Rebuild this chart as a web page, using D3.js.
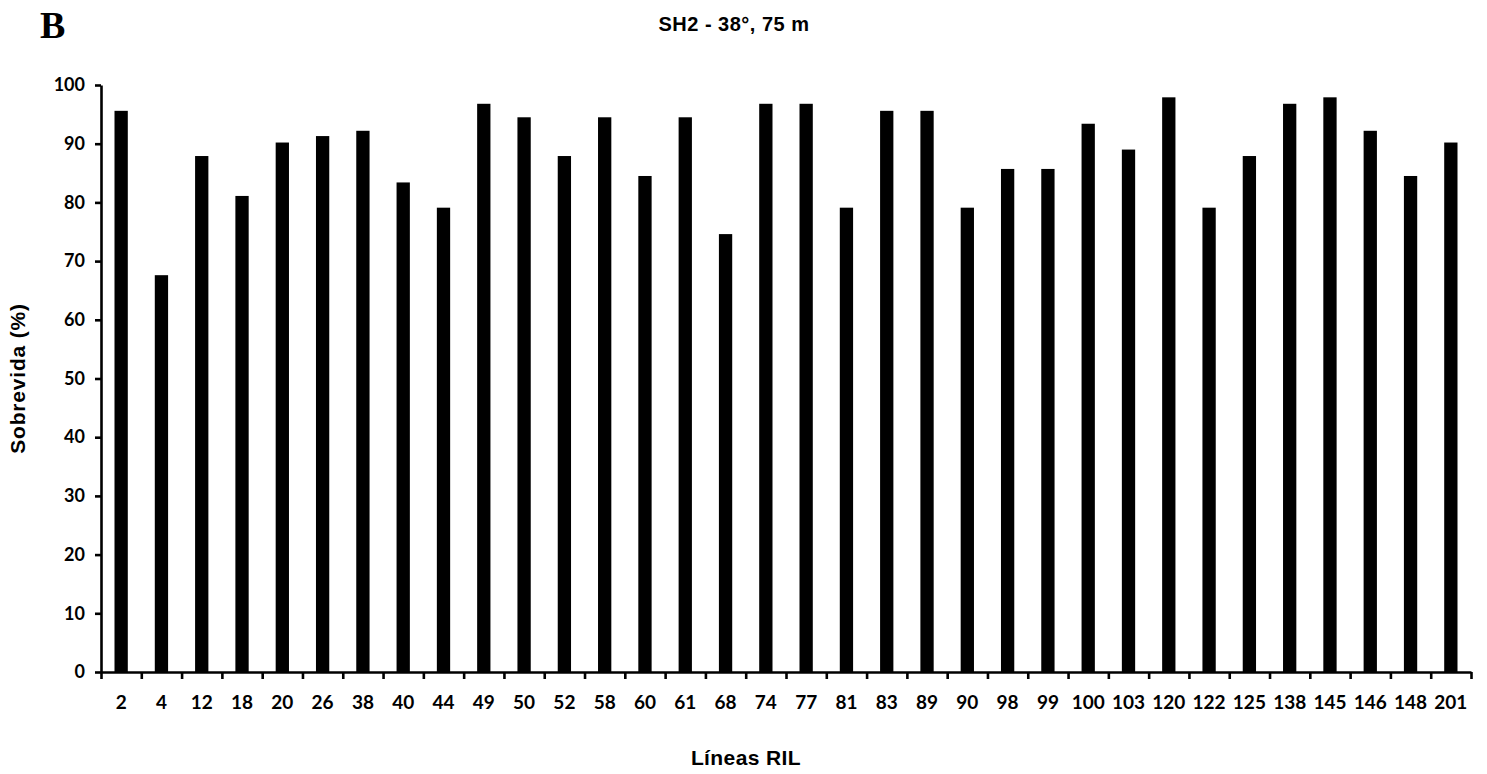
<!DOCTYPE html>
<html>
<head>
    <meta charset="utf-8" />
    <title>SH2 - 38°, 75 m</title>
    <script src="https://d3js.org/d3.v7.min.js"></script>
    <style>
        body { margin: 0; background: #fff; }
        svg { display: block; }
    </style>
</head>
<body>
    <div id="chart"></div>
    <script>
        // data
        var lines = ["2", "4", "12", "18", "20", "26", "38", "40", "44", "49", "50", "52",
                     "58", "60", "61", "68", "74", "77", "81", "83", "89", "90", "98", "99",
                     "100", "103", "120", "122", "125", "138", "145", "146", "148", "201"];
        var survival = [95.6, 67.6, 87.9, 81.1, 90.2, 91.3, 92.2, 83.4, 79.1, 96.8, 94.5, 87.9,
                        94.5, 84.5, 94.5, 74.6, 96.8, 96.8, 79.1, 95.6, 95.6, 79.1, 85.7, 85.7,
                        93.4, 89.0, 97.9, 79.1, 87.9, 96.8, 97.9, 92.2, 84.5, 90.2];
        var yTicks = [0, 10, 20, 30, 40, 50, 60, 70, 80, 90, 100];

        var w = 1487, h = 774,
            plotLeft = 101, plotRight = 1471,
            plotTop = 85, plotBottom = 672;

        var svg = d3.select("#chart").append("svg")
            .attr("width", w)
            .attr("height", h);

        var x = d3.scaleBand()
            .domain(lines)
            .range([plotLeft, plotRight])
            .paddingInner(0.67)
            .paddingOuter(0.335);

        // boundaries between categories carry the tick marks
        var xEdge = d3.scaleLinear()
            .domain([0, lines.length])
            .range([plotLeft, plotRight]);

        var y = d3.scaleLinear()
            .domain([0, 100])
            .range([plotBottom, plotTop]);

        // bars
        svg.selectAll("rect.bar")
            .data(survival)
            .enter()
            .append("rect")
            .attr("class", "bar")
            .attr("x", function(d, i) { return x(lines[i]); })
            .attr("y", function(d) { return y(d); })
            .attr("width", x.bandwidth())
            .attr("height", function(d) { return y(0) - y(d); })
            .attr("fill", "#000");

        // y axis
        var yAxis = svg.append("g")
            .attr("transform", "translate(" + plotLeft + ",0)")
            .call(d3.axisLeft(y).tickValues(yTicks).tickSize(6).tickPadding(10).tickSizeOuter(0));

        yAxis.selectAll("text")
            .attr("font-family", "Lato, 'Open Sans', sans-serif")
            .attr("font-weight", "bold")
            .attr("font-size", "18px")
            .attr("fill", "#000");

        // x axis: line + ticks at boundaries
        svg.append("g")
            .attr("transform", "translate(0," + plotBottom + ")")
            .call(d3.axisBottom(xEdge).tickValues(d3.range(lines.length + 1)).tickSize(7).tickSizeOuter(0).tickFormat(""));

        // x labels
        var xLabelAxis = svg.append("g")
            .attr("transform", "translate(0," + plotBottom + ")")
            .call(d3.axisBottom(x).tickSize(0).tickPadding(24));

        xLabelAxis.select(".domain").remove();
        xLabelAxis.selectAll("text")
            .attr("font-family", "Lato, 'Open Sans', sans-serif")
            .attr("font-weight", "bold")
            .attr("font-size", "19px")
            .attr("fill", "#000");

        svg.selectAll(".domain, .tick line")
            .attr("stroke", "#000")
            .attr("stroke-width", 2.6);

        // titles
        svg.append("text")
            .attr("x", 40)
            .attr("y", 38)
            .attr("font-family", "'Liberation Serif', 'Times New Roman', serif")
            .attr("font-weight", "bold")
            .attr("font-size", "38px")
            .attr("fill", "#000")
            .text("B");

        svg.append("text")
            .attr("x", 734)
            .attr("y", 31)
            .attr("text-anchor", "middle")
            .attr("font-family", "'Liberation Sans', Arial, sans-serif")
            .attr("font-weight", "bold")
            .attr("font-size", "20px")
            .attr("letter-spacing", "0.5px")
            .attr("fill", "#000")
            .text("SH2 - 38°, 75 m");

        svg.append("text")
            .attr("x", 746)
            .attr("y", 765)
            .attr("text-anchor", "middle")
            .attr("font-family", "'Liberation Sans', Arial, sans-serif")
            .attr("font-weight", "bold")
            .attr("font-size", "21px")
            .attr("letter-spacing", "0.4px")
            .attr("fill", "#000")
            .text("Líneas RIL");

        svg.append("text")
            .attr("transform", "translate(25," + ((plotTop + plotBottom) / 2) + ") rotate(-90)")
            .attr("text-anchor", "middle")
            .attr("font-family", "'Liberation Sans', Arial, sans-serif")
            .attr("font-weight", "bold")
            .attr("font-size", "21px")
            .attr("letter-spacing", "0.8px")
            .attr("fill", "#000")
            .text("Sobrevida (%)");
    </script>
</body>
</html>
